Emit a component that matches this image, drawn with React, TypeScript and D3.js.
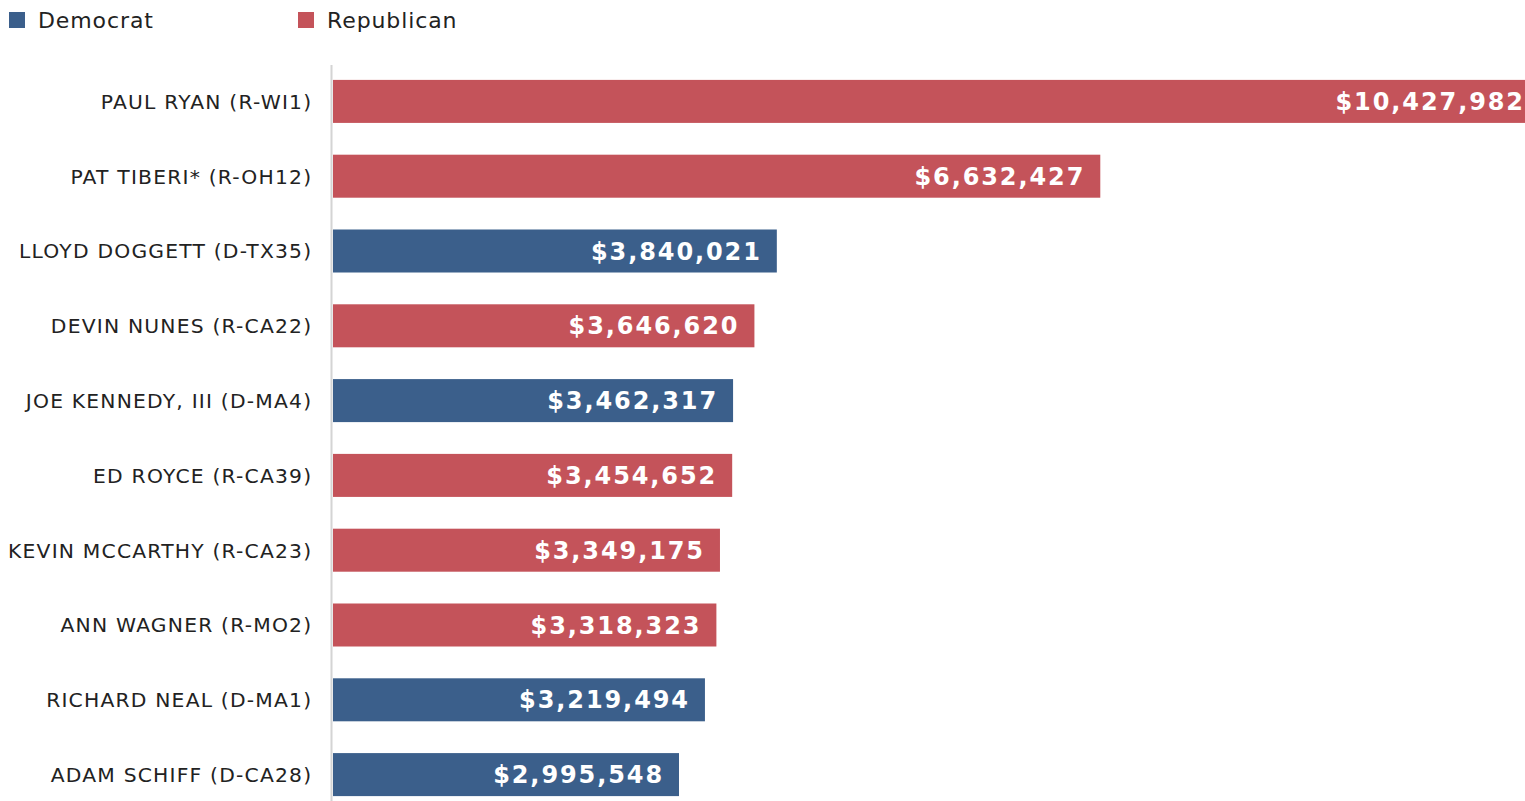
import React from "react";
import * as d3 from "d3";

const names = [
  "PAUL RYAN (R-WI1)",
  "PAT TIBERI* (R-OH12)",
  "LLOYD DOGGETT (D-TX35)",
  "DEVIN NUNES (R-CA22)",
  "JOE KENNEDY, III (D-MA4)",
  "ED ROYCE (R-CA39)",
  "KEVIN MCCARTHY (R-CA23)",
  "ANN WAGNER (R-MO2)",
  "RICHARD NEAL (D-MA1)",
  "ADAM SCHIFF (D-CA28)",
];
const values = [10427982, 6632427, 3840021, 3646620, 3462317, 3454652, 3349175, 3318323, 3219494, 2995548];
const parties = ["R", "R", "D", "R", "D", "R", "R", "R", "D", "D"];
const legendItems = [
  { key: "D", label: "Democrat" },
  { key: "R", label: "Republican" },
];

const COLORS: Record<string, string> = { D: "#3b5f8b", R: "#c4535a" };
const W = 1525;
const H = 801;
const FONT = "Verdana, 'DejaVu Sans', sans-serif";

export default function App() {
  const x0 = 332;
  const x = d3.scaleLinear().domain([0, 2995548]).range([x0, 679]);
  const y = d3
    .scaleBand<string>()
    .domain(names)
    .range([64, 812])
    .paddingInner(0.425)
    .paddingOuter(0.2125);
  const fmt = d3.format("$,");
  const legendX = [9, 298];

  return (
    <div style={{ position: "absolute", left: 0, top: 0, width: W, height: H, overflow: "hidden", background: "#fff" }}>
      <svg width={W} height={H} style={{ display: "block" }}>
        {legendItems.map((l, i) => (
          <g key={l.key} transform={`translate(${legendX[i]},0)`}>
            <rect x={0} y={12} width={16} height={16} fill={COLORS[l.key]} />
            <text x={29} y={20} dy="0.36em" fontFamily={FONT} fontSize={22} letterSpacing={0.9} fill="#222">
              {l.label}
            </text>
          </g>
        ))}
        {names.map((n, i) => {
          const yy = y(n)!;
          const bw = y.bandwidth();
          const xe = x(values[i]);
          return (
            <g key={n}>
              <text
                x={312.3}
                y={yy + bw / 2}
                dy="0.36em"
                textAnchor="end"
                fontFamily={FONT}
                fontSize={20.3}
                letterSpacing={1.2}
                fill="#222"
              >
                {n}
              </text>
              <rect x={x0 + 1} y={yy} width={xe - x0 - 1} height={bw} fill={COLORS[parties[i]]} />
              <text
                x={xe - 15}
                y={yy + bw / 2}
                dy="0.36em"
                textAnchor="end"
                fontFamily={FONT}
                fontWeight="bold"
                fontSize={24}
                letterSpacing={1.9}
                fill="#fff"
              >
                {fmt(values[i])}
              </text>
            </g>
          );
        })}
        <line x1={331.5} x2={331.5} y1={65} y2={H} stroke="#d4d4d4" strokeWidth={2} />
      </svg>
    </div>
  );
}
